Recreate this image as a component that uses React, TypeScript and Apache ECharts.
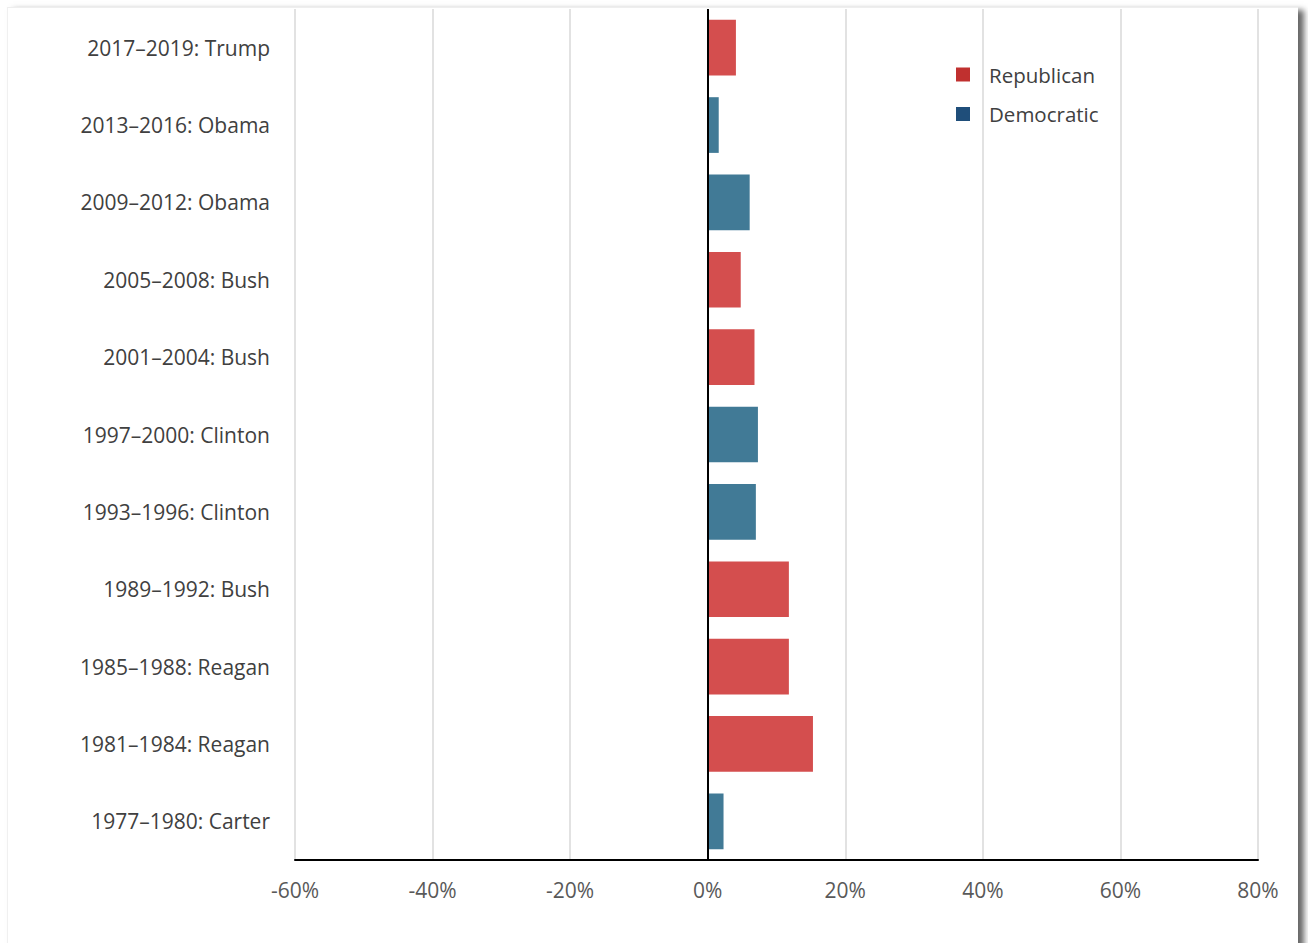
import React, { useEffect, useRef } from "react";
import * as echarts from "echarts";

const categories = [
  "1977–1980: Carter",
  "1981–1984: Reagan",
  "1985–1988: Reagan",
  "1989–1992: Bush",
  "1993–1996: Clinton",
  "1997–2000: Clinton",
  "2001–2004: Bush",
  "2005–2008: Bush",
  "2009–2012: Obama",
  "2013–2016: Obama",
  "2017–2019: Trump",
];
const values = [2.3, 15.3, 11.8, 11.8, 7.0, 7.3, 6.8, 4.8, 6.1, 1.6, 4.1];
const parties = ["D", "R", "R", "R", "D", "D", "R", "R", "D", "D", "R"];
const xTicks = [-60, -40, -20, 0, 20, 40, 60, 80];

const BAR_RED = "#D44E4E";
const BAR_BLUE = "#417A96";
const LEG_RED = "#C0302F";
const LEG_BLUE = "#1F4E7A";
const FONT = "'Open Sans', sans-serif";

export default function App() {
  const ref = useRef<HTMLDivElement>(null);
  useEffect(() => {
    if (!ref.current) return;
    const chart = echarts.init(ref.current, null, { renderer: "svg" });
    const mk = (p: string, color: string) =>
      values.map((v, i) =>
        parties[i] === p ? { value: v, itemStyle: { color } } : "-"
      );
    chart.setOption({
      animation: false,
      grid: { left: 295, right: 50, top: 9, bottom: 83, containLabel: false },
      legend: {
        orient: "vertical",
        left: 951,
        top: 59,
        itemWidth: 14,
        itemHeight: 14,
        itemGap: 18.5,
        icon: "rect",
        textStyle: {
          fontFamily: FONT,
          fontSize: 20.5,
          color: "#404040",
          padding: [0, 0, 0, 14],
        },
        data: ["Republican", "Democratic"],
      },
      xAxis: {
        type: "value",
        min: -60,
        max: 80,
        interval: 20,
        axisLine: { show: true, onZero: false, lineStyle: { color: "#000", width: 2 } },
        axisTick: { show: false },
        splitLine: { show: true, lineStyle: { color: "#d9d9d9", width: 1.5 } },
        axisLabel: {
          fontFamily: FONT,
          fontSize: 21,
          color: "#595959",
          margin: 19,
          formatter: (v: number) => (xTicks.includes(v) ? `${v}%` : ""),
        },
      },
      yAxis: {
        type: "category",
        data: categories,
        axisLine: { show: false },
        axisTick: { show: false },
        splitLine: { show: false },
        axisLabel: {
          fontFamily: FONT,
          fontSize: 21,
          color: "#404040",
          margin: 25,
        },
      },
      series: [
        {
          name: "Republican",
          type: "bar",
          barWidth: "72%",
          barGap: "-100%",
          itemStyle: { color: LEG_RED },
          data: mk("R", BAR_RED),
          markLine: {
            silent: true,
            symbol: "none",
            label: { show: false },
            lineStyle: { color: "#000", width: 2, type: "solid" },
            data: [{ xAxis: 0 }],
          },
        },
        {
          name: "Democratic",
          type: "bar",
          barWidth: "72%",
          barGap: "-100%",
          itemStyle: { color: LEG_BLUE },
          data: mk("D", BAR_BLUE),
        },
      ],
    });
    return () => chart.dispose();
  }, []);

  return (
    <div style={{ position: "fixed", left: 0, top: 0, width: 1308, height: 943, background: "#fff", overflow: "hidden" }}>
      <div
        style={{
          position: "absolute",
          left: 7,
          top: 7,
          width: 1290,
          height: 960,
          background: "#fff",
          borderLeft: "1px solid #f0f0f0",
          borderTop: "1px solid #eeeeee",
          boxShadow: "6px 3px 6px rgba(0,0,0,0.6)",
        }}
      />
      <div ref={ref} style={{ position: "absolute", left: 0, top: 0, width: 1308, height: 943 }} />
    </div>
  );
}
